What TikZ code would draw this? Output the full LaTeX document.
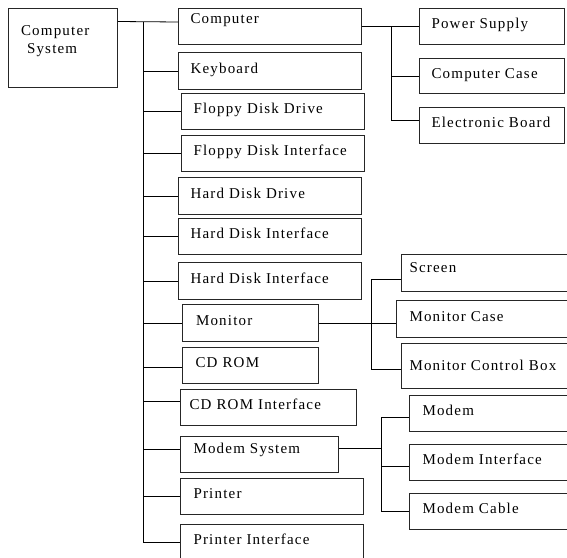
\documentclass[tikz,border=0pt]{standalone}
\usepackage{fontspec}
\setmainfont{Liberation Serif}[LetterSpace=8]
\tikzset{part/.style={draw=black!85,line width=1pt,anchor=north west,align=left,inner xsep=12pt,inner ysep=0pt,text width=#1,minimum height=37pt,text height=11pt,text depth=7pt},
link/.style={line width=.8pt}}
\begin{document}
\begin{tikzpicture}[x=1pt,y=-1pt,font=\fontsize{15}{18}\selectfont]
\path[use as bounding box,clip] (0,0) rectangle (567,557);
\node[part=84pt,inner xsep=12.5pt,minimum height=79pt,text depth=37pt] (sys) at (8,8) {Computer\\\hspace*{6pt}System};
\node[part=159pt,minimum height=36pt,text depth=17pt] (comp) at (178,8) {Computer};
\node[part=159pt] (kbd) at (178,52) {Keyboard};
\node[part=159pt,minimum height=36pt] (fdd) at (181,93) {Floppy Disk Drive};
\node[part=159pt,minimum height=36pt] (fdi) at (181,135) {Floppy Disk Interface};
\node[part=159pt] (hdd) at (178,177) {Hard Disk Drive};
\node[part=159pt,minimum height=36pt] (hdi) at (178,218) {Hard Disk Interface};
\node[part=159pt] (hdx) at (178,262) {Hard Disk Interface};
\node[part=109pt,inner xsep=13.5pt] (mon) at (182,304) {Monitor};
\node[part=110pt,inner xsep=13pt,minimum height=36pt] (cd) at (182,347) {CD ROM};
\node[part=158pt,inner xsep=9pt,minimum height=36pt] (cdi) at (180,389) {CD ROM Interface};
\node[part=132pt,inner xsep=13pt,minimum height=36pt,text depth=13pt] (msys) at (180,436) {Modem System};
\node[part=157pt,inner xsep=13pt,minimum height=36pt] (prn) at (180,478) {Printer};
\node[part=157pt,inner xsep=13pt,minimum height=36pt] (pif) at (180,524) {Printer Interface};
\node[part=121pt,minimum height=36pt] (psu) at (419,8) {Power Supply};
\node[part=121pt,minimum height=35pt] (case) at (419,58) {Computer Case};
\node[part=121pt,minimum height=36pt] (board) at (419,107) {Electronic Board};
\node[part=158pt,inner xsep=8pt,text depth=12pt] (scr) at (401,254) {Screen};
\node[part=153pt,inner xsep=13pt] (mcase) at (396,300) {Monitor Case};
\node[part=158pt,inner xsep=8pt,minimum height=45pt,text depth=2pt] (mbox) at (401,343) {Monitor Control Box};
\node[part=140pt,inner xsep=13pt,minimum height=36pt] (modem) at (409,395) {Modem};
\node[part=140pt,inner xsep=13pt,minimum height=36pt] (mif) at (409,444) {Modem Interface};
\node[part=140pt,inner xsep=13pt,minimum height=36pt] (mcab) at (409,493) {Modem Cable};
\coordinate (bus) at (143.5,21.5);
\coordinate (cbus) at (391,0);
\coordinate (mbus) at (371,0);
\coordinate (dbus) at (381,0);
\draw[link] (sys.east |- bus) -- ([yshift=4.5pt]comp.west);
\draw[link] (bus) -- (bus |- pif.west);
\foreach \n/\s in {kbd/0,fdd/0,fdi/0,hdd/0,hdi/0,hdx/0,mon/0,cd/-2,cdi/6,msys/5,prn/0,pif/0}
  \draw[link] ([yshift=\s pt]bus |- \n.west) -- ([yshift=\s pt]\n.west);
\draw[link] (comp.east) -- (psu.west);
\draw[link] (cbus |- psu.west) |- ([yshift=5pt]board.west);
\draw[link] (cbus |- case.west) -- (case.west);
\draw[link] (mon.east) -- (mon.east -| mcase.west);
\draw[link] ([yshift=-6.5pt]scr.west) -| ([yshift=-3.5pt]mbus |- mbox.west) -- ([yshift=-3.5pt]mbox.west);
\draw[link] ([yshift=6pt]msys.east) -- ([yshift=6pt]dbus |- msys.east);
\draw[link] ([yshift=-4pt]modem.west) -| (dbus |- mcab.west) -- (mcab.west);
\draw[link] ([yshift=-4pt]dbus |- mif.west) -- ([yshift=-4pt]mif.west);
\end{tikzpicture}
\end{document}
